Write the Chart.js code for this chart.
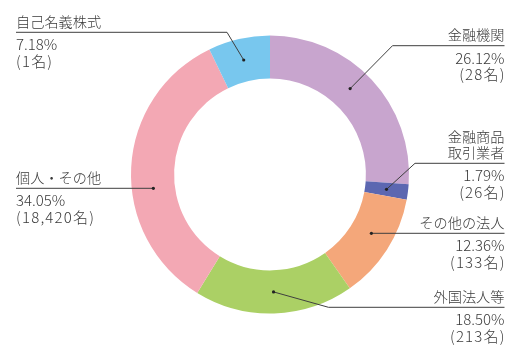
<!DOCTYPE html>
<html>
<head>
<meta charset="utf-8">
<script src="https://cdn.jsdelivr.net/npm/chart.js@4"></script>
<style>
html,body{margin:0;padding:0;background:#fff;}
#wrap{position:relative;width:519px;height:358px;}
canvas{display:block;}
</style>
</head>
<body>
<div id="wrap"><canvas id="c" width="519" height="358"></canvas></div>
<script>
// ---- data ----
const categories = ["金融機関", "金融商品取引業者", "その他の法人", "外国法人等", "個人・その他", "自己名義株式"];
const nameLines = [["金融機関"], ["金融商品", "取引業者"], ["その他の法人"], ["外国法人等"], ["個人・その他"], ["自己名義株式"]];
const percentages = [26.12, 1.79, 12.36, 18.50, 34.05, 7.18];
const holders = ["28名", "26名", "133名", "213名", "18,420名", "1名"];
const colors = ["#C8A5CE", "#5C67B1", "#F4A77A", "#ABD065", "#F3A8B4", "#78C7EE"];

// ---- label layout (positions only) ----
const labelLayout = [
  { side: "right", lineY: 45.7, elbowX: 392.5, angleOffset: -4 },
  { side: "right", lineY: 163.3, elbowX: 415, angleOffset: 0 },
  { side: "right", lineY: 233.3, elbowX: null, angleOffset: -2.4 },
  { side: "right", lineY: 307.3, elbowX: 328.5, angleOffset: 0 },
  { side: "left", lineY: 188.3, elbowX: null, angleOffset: -9.6 },
  { side: "left", lineY: 32.3, elbowX: 227, angleOffset: 0 }
];
const rightTextX = 504.5;
const leftTextX = 16;
const NAME_FONT = '300 14.2px "Noto Sans CJK JP", "Noto Sans", sans-serif';
const NUM_FONT = '300 15px "Noto Sans CJK JP", "Noto Sans", sans-serif';
const TEXT_COLOR = "#3a3a3a";
const LINE_COLOR = "#3f3f3f";

const leaderPlugin = {
  id: "leaders",
  afterDraw(chart) {
    const ctx = chart.ctx;
    const meta = chart.getDatasetMeta(0);
    ctx.save();
    meta.data.forEach((arc, i) => {
      const p = arc.getProps(["x", "y", "startAngle", "endAngle", "innerRadius", "outerRadius"], true);
      const lay = labelLayout[i];
      const mid = (p.startAngle + p.endAngle) / 2 + lay.angleOffset * Math.PI / 180;
      const r = (p.innerRadius + p.outerRadius) / 2;
      let dx = p.x + Math.cos(mid) * r;
      let dy = p.y + Math.sin(mid) * r;
      if (lay.elbowX === null) dy = lay.lineY;
      const endX = lay.side === "right" ? rightTextX : leftTextX;
      // line
      ctx.strokeStyle = LINE_COLOR;
      ctx.lineWidth = 1;
      ctx.beginPath();
      ctx.moveTo(dx, dy);
      if (lay.elbowX !== null) ctx.lineTo(lay.elbowX, lay.lineY);
      ctx.lineTo(endX, lay.lineY);
      ctx.stroke();
      // dot
      ctx.fillStyle = "#222";
      ctx.beginPath();
      ctx.arc(dx, dy, 1.6, 0, Math.PI * 2);
      ctx.fill();
      // text
      ctx.fillStyle = TEXT_COLOR;
      ctx.textAlign = lay.side === "right" ? "right" : "left";
      ctx.textBaseline = "middle";
      ctx.font = NAME_FONT;
      ctx.letterSpacing = "0px";
      const names = nameLines[i];
      names.forEach((t, k) => {
        const y = lay.lineY - 11 - (names.length - 1 - k) * 16;
        ctx.fillText(t, endX, y);
      });
      ctx.font = NUM_FONT;
      ctx.fillText(percentages[i].toFixed(2) + "%", endX, lay.lineY + 12.4);
      ctx.letterSpacing = "1.2px";
      const cx = lay.side === "right" ? endX + 1.2 : endX;
      ctx.fillText("(" + holders[i] + ")", cx, lay.lineY + 29);
      ctx.letterSpacing = "0px";
    });
    ctx.restore();
  }
};

new Chart(document.getElementById("c"), {
  type: "doughnut",
  data: {
    labels: categories,
    datasets: [{
      data: percentages,
      backgroundColor: colors,
      borderWidth: 0,
      hoverOffset: 0
    }]
  },
  options: {
    responsive: false,
    animation: false,
    cutout: "69%",
    rotation: 0,
    layout: { padding: { left: 131, right: 110, top: 35, bottom: 44 } },
    plugins: {
      legend: { display: false },
      tooltip: { enabled: false }
    }
  },
  plugins: [leaderPlugin]
});
</script>
</body>
</html>
